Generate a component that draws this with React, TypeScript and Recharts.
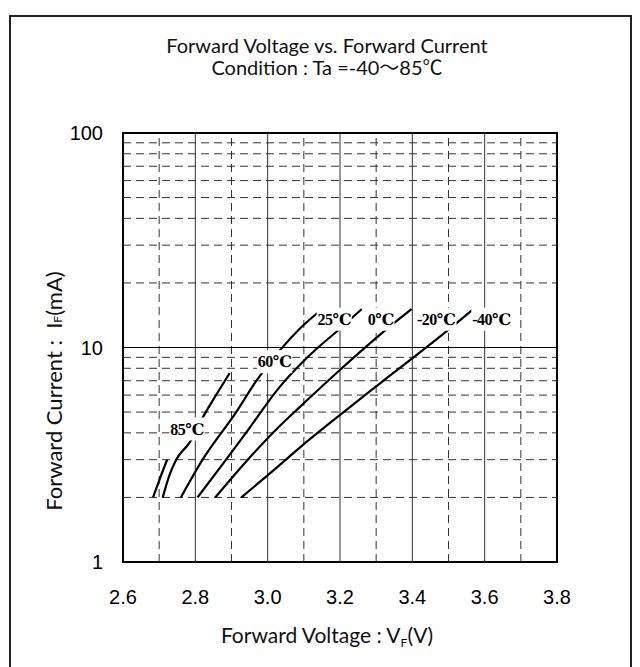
import { LineChart, Line, XAxis, YAxis, ReferenceLine, ReferenceArea, ReferenceDot } from "recharts";

// axis ticks and grid
const xTicks = [2.6, 2.8, 3.0, 3.2, 3.4, 3.6, 3.8];
const yTicks = [1, 10, 100];
const xMajorGrid = [2.8, 3.0, 3.2, 3.4, 3.6];
const xMinorGrid = [2.7, 2.9, 3.1, 3.3, 3.5, 3.7];
const yMajorGrid = [10];
const yMinorGrid = [2, 3, 4, 5, 6, 7, 8, 9, 20, 30, 40, 50, 60, 70, 80, 90];

// forward voltage (V) / forward current (mA) per temperature
const vf85 = [2.683, 2.702, 2.722];
const if85 = [2.0, 2.45, 3.0];
const vf60 = [2.71, 2.727, 2.747, 2.784, 2.823, 2.86, 2.895];
const if60 = [2.0, 2.5, 3.0, 3.6, 4.8, 6.1, 7.6];
const vf25 = [2.76, 2.82, 2.913, 2.969, 3.036, 3.09, 3.14];
const if25 = [2.0, 3.0, 5.0, 7.0, 9.8, 12.3, 14.6];
const vf0 = [2.806, 2.885, 2.94, 3.034, 3.11, 3.198, 3.26];
const if0 = [2.0, 3.0, 4.0, 6.57, 9.0, 12.17, 15.1];
const vfm20 = [2.855, 2.945, 3.034, 3.09, 3.205, 3.329, 3.398];
const ifm20 = [2.0, 3.0, 4.32, 5.3, 8.0, 12.17, 15.1];
const vfm40 = [2.927, 3.033, 3.092, 3.21, 3.311, 3.4995, 3.569];
const ifm40 = [2.0, 2.83, 3.45, 5.0, 6.81, 12.07, 15.1];

// curve tags
const labelTexts = ["85℃", "60℃", "25℃", "0℃", "-20℃", "-40℃"];
const labelVf = [2.777, 3.019, 3.184, 3.313, 3.466, 3.619];
const labelIf = [4.17, 8.59, 13.55, 13.55, 13.55, 13.55];

const curves = [
  [vf85, if85],
  [vf60, if60],
  [vf25, if25],
  [vf0, if0],
  [vfm20, ifm20],
  [vfm40, ifm40],
].map(([vs, is]) => vs.map((v, k) => ({ v, i: is[k] })));

const gridColor = "#333";
const tagSize = 16;

function tagWidth(text: string) {
  let w = 0;
  for (const ch of text) w += ch === "℃" ? 0.95 : ch === "-" ? 0.333 : 0.5;
  return w * tagSize;
}

function TempTag(props: any) {
  const { cx, cy, text } = props;
  const w = tagWidth(text);
  return (
    <g>
      <rect x={cx - w / 2 - 2} y={cy - 11.5} width={w + 4} height={23} fill="#fff" />
      <text
        x={cx}
        y={cy}
        dy="0.36em"
        textAnchor="middle"
        fontFamily="'Liberation Serif', 'Times New Roman', 'DejaVu Serif', 'Noto Sans CJK JP', serif"
        fontWeight="bold"
        fontSize={tagSize}
        letterSpacing={-0.5}
        fill="#000"
      >
        {text}
      </text>
    </g>
  );
}

const titleFont = "Lato, 'Noto Sans CJK JP', sans-serif";

export default function App() {
  return (
    <div
      style={{
        position: "fixed",
        left: 0,
        top: 0,
        width: 640,
        height: 667,
        overflow: "hidden",
        background: "#fff",
      }}
    >
      <div
        style={{
          position: "absolute",
          left: 9,
          top: 15,
          width: 623,
          height: 700,
          boxSizing: "border-box",
          border: "2px solid #222",
        }}
      />
      <div style={{ position: "absolute", left: 0, top: 0 }}>
        <LineChart width={640} height={667} margin={{ top: 133, right: 83, bottom: 25, left: 63 }}>
          <XAxis
            type="number"
            dataKey="v"
            domain={[2.6, 3.8]}
            ticks={xTicks}
            tickFormatter={(v: number) => v.toFixed(1)}
            height={80}
            axisLine={false}
            tickLine={false}
            tickSize={0}
            tickMargin={28}
            tick={{ fontSize: 20, fill: "#000", fontFamily: "'Liberation Sans', Arial, sans-serif" }}
          />
          <YAxis
            type="number"
            scale="log"
            domain={[1, 100]}
            ticks={yTicks}
            width={60}
            axisLine={false}
            tickLine={false}
            tickSize={0}
            tickMargin={20}
            tick={{ fontSize: 20, fill: "#000", fontFamily: "'Liberation Sans', Arial, sans-serif" }}
          />

          {xMinorGrid.map((x) => (
            <ReferenceLine key={"xm" + x} x={x} stroke={gridColor} strokeWidth={1} strokeDasharray="8 5" />
          ))}
          {yMinorGrid.map((y) => (
            <ReferenceLine key={"ym" + y} y={y} stroke={gridColor} strokeWidth={1} strokeDasharray="8 5" />
          ))}
          {xMajorGrid.map((x) => (
            <ReferenceLine key={"xM" + x} x={x} stroke={gridColor} strokeWidth={1} />
          ))}
          {yMajorGrid.map((y) => (
            <ReferenceLine key={"yM" + y} y={y} stroke="#000" strokeWidth={1} />
          ))}
          <ReferenceArea x1={2.6} x2={3.8} y1={1} y2={100} fill="none" stroke="#000" strokeWidth={2} />

          {curves.map((data, k) => (
            <Line
              key={labelTexts[k]}
              data={data}
              dataKey="i"
              type="monotone"
              stroke="#000"
              strokeWidth={2.2}
              dot={false}
              activeDot={false}
              isAnimationActive={false}
            />
          ))}

          {labelTexts.map((t, k) => (
            <ReferenceDot
              key={"tag" + t}
              x={labelVf[k]}
              y={labelIf[k]}
              r={0}
              zIndex={2000}
              shape={(p: any) => <TempTag cx={p.cx} cy={p.cy} text={t} />}
            />
          ))}

          <text x={327} y={52.5} textAnchor="middle" fontFamily={titleFont} fontSize={20} fill="#111">
            Forward Voltage vs. Forward Current
          </text>
          <text x={327} y={75} textAnchor="middle" fontFamily={titleFont} fontSize={20} fill="#111">
            Condition : Ta =-40～85℃
          </text>
          <text x={327} y={643} textAnchor="middle" fontFamily={titleFont} fontSize={21} fill="#111">
            Forward Voltage : V
            <tspan fontSize={12} dy={4}>F</tspan>
            <tspan dy={-4}>(V)</tspan>
          </text>
          <text
            x={53}
            y={391}
            transform="rotate(-90 53 391)"
            textAnchor="middle"
            dominantBaseline="central"
            fontFamily={titleFont}
            fontSize={22}
            fill="#111"
          >
            {"Forward Current :\u00A0\u00A0I"}
            <tspan fontSize={12} dy={4}>F</tspan>
            <tspan dy={-4}>(mA)</tspan>
          </text>
        </LineChart>
      </div>
    </div>
  );
}
